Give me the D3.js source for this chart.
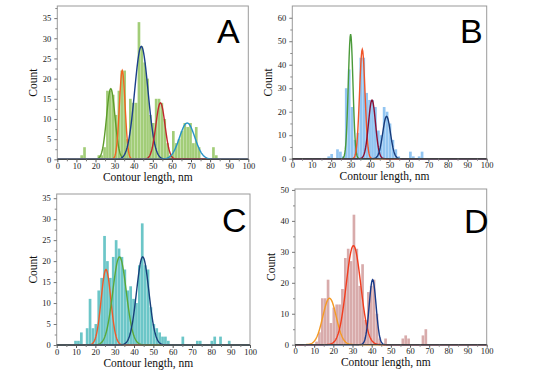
<!DOCTYPE html>
<html>
<head>
<meta charset="utf-8">
<script src="https://cdn.jsdelivr.net/npm/d3@7"></script>
<style>
  body { margin: 0; background: #fff; }
  svg { display: block; }
</style>
</head>
<body>
<svg id="chart" width="539" height="383"></svg>
<script>
// histograms: [bin start (nm), count], bin width 1.5 nm
const binWidth = 1.5;
const histA = [[12,1],[13.5,3],[21,1],[22.5,1],[24,3],[25.5,17],[27,17],[28.5,16],[30,11],[31.5,17],[33,22],[34.5,22],[36,5],
  [37.5,15],[39,14],[40.5,14],[42,34],[43.5,28],[45,24],[46.5,20],[48,11],[49.5,9],[51,15],[52.5,15],[54,14],[55.5,10],
  [57,4],[58.5,1],[60,7],[61.5,4],[63,5],[64.5,7],[66,9],[67.5,8],[69,9],[70.5,4],[72,8],[73.5,3],[81,3],[82.5,1]];
const histB = [[18,1],[19.5,2],[22.5,4],[24,3],[25.5,1],[27,30],[28.5,38],[30,22],[31.5,8],[33,11],[34.5,43],[36,43],
  [37.5,28],[39,25],[40.5,25],[42,22],[43.5,12],[45,10],[46.5,22],[48,20],[49.5,15],[51,8],[52.5,4],[54,1],
  [60,3],[61.5,1],[64.5,1],[66,3]];
const histC = [[9,1],[10.5,1],[12,3],[15,4],[16.5,11],[18,4],[19.5,5],[21,13],[22.5,16],[24,26],[25.5,20],[27,16],
  [28.5,21],[30,25],[31.5,23],[33,21],[34.5,18],[36,13],[37.5,14],[39,11],[40.5,10],[42,19],[43.5,29],[45,19],
  [46.5,18],[48,9],[49.5,5],[51,4],[52.5,3],[54,2],[55.5,2],[57,1],[64.5,2],[72,1],[73.5,1],[79.5,1],[81,2],[84,2],[88.5,1]];
const histD = [[10.5,1],[12,4],[13.5,15],[15,15],[16.5,21],[18,7],[19.5,12],[21,13],[22.5,13],[24,18],[25.5,28],[27,31],
  [28.5,27],[30,42],[31.5,31],[33,19],[34.5,26],[36,8],[37.5,17],[39,19],[40.5,21],[42,10],[43.5,2],[46.5,2],
  [55.5,2],[57,3],[58.5,2],[66,3],[67.5,5]];

// gaussian fits: mean, sigma, peak height
const muA = [28, 34, 44, 54, 68],   sdA = [2.2, 1.5, 3.5, 2.4, 4.0], peakA = [17.5, 22, 28, 14, 9];
const muB = [30, 36, 41, 48.5],     sdB = [1.2, 1.4, 1.8, 2.0],      peakB = [53, 46.5, 25, 18];
const muC = [25.5, 32.5, 44.5],     sdC = [2.5, 3.5, 3.2],           peakC = [18, 21, 21];
const muD = [18, 30.5, 40.5],       sdD = [3.5, 3.8, 1.8],           peakD = [15, 32, 21];

const xTicks = d3.range(0, 101, 10);
const yTicksA = d3.range(0, 36, 5), yTicksB = d3.range(0, 61, 10);
const yTicksC = d3.range(0, 36, 5), yTicksD = d3.range(0, 51, 10);
const letters = ['A', 'B', 'C', 'D'];

const panels = [
  {hist: histA, mu: muA, sd: sdA, pk: peakA, yTicks: yTicksA, yMax: 38, bar: '#a2cd78',
   lines: ['#5e9c2c', '#f26522', '#1b3f8b', '#c1272d', '#2593c9'],
   box: {l: 57.3, r: 248.3, t: 6, b: 159.3}, lx: 217, ly: 43},
  {hist: histB, mu: muB, sd: sdB, pk: peakB, yTicks: yTicksB, yMax: 65, bar: '#92c5f1',
   lines: ['#4b9a3a', '#f0552a', '#8b1035', '#173a7a'],
   box: {l: 292.3, r: 486.7, t: 6, b: 158.7}, lx: 460, ly: 43},
  {hist: histC, mu: muC, sd: sdC, pk: peakC, yTicks: yTicksC, yMax: 36, bar: '#6cc6c8',
   lines: ['#ef5a2a', '#5aa837', '#173f7a'],
   box: {l: 56.7, r: 250, t: 194, b: 345}, lx: 222, ly: 232},
  {hist: histD, mu: muD, sd: sdD, pk: peakD, yTicks: yTicksD, yMax: 50.3, bar: '#d8abab',
   lines: ['#f59a23', '#f23c1d', '#173a8a'],
   box: {l: 295, r: 486.7, t: 189, b: 344.7}, lx: 464, ly: 233}
];

const svg = d3.select('#chart');
const serif = '"Liberation Serif", "Times New Roman", serif';
const frameColor = '#9a9a9a';

panels.forEach((p, i) => {
  const b = p.box;
  const x = d3.scaleLinear().domain([0, 100]).range([b.l, b.r]);
  const y = d3.scaleLinear().domain([0, p.yMax]).range([b.b, b.t]);
  const g = svg.append('g');

  // bars
  g.selectAll('.bar')
    .data(p.hist)
    .enter()
    .append('rect')
    .attr('class', 'bar')
    .attr('x', d => x(d[0]) + 0.1)
    .attr('width', d => x(d[0] + binWidth) - x(d[0]) - 0.2)
    .attr('y', d => y(d[1]))
    .attr('height', d => y(0) - y(d[1]))
    .attr('fill', p.bar);

  // fitted gaussians
  const xs = d3.range(0, 100.01, 0.25);
  const line = d3.line().x(d => x(d[0])).y(d => y(d[1]));
  p.mu.forEach((m, k) => {
    const pts = xs.map(v => [v, p.pk[k] * Math.exp(-0.5 * ((v - m) / p.sd[k]) ** 2)]);
    g.append('path')
      .attr('d', line(pts))
      .attr('fill', 'none')
      .attr('stroke', p.lines[k])
      .attr('stroke-width', 1.4);
  });

  // frame
  g.append('rect')
    .attr('x', b.l).attr('y', b.t)
    .attr('width', b.r - b.l).attr('height', b.b - b.t)
    .attr('fill', 'none')
    .attr('stroke', frameColor)
    .attr('stroke-width', 1);

  // axes
  const xAxis = g.append('g')
    .attr('transform', `translate(0, ${b.b})`)
    .call(d3.axisBottom(x).tickValues(xTicks).tickSize(3).tickPadding(0.5));
  xAxis.selectAll('.tick line').attr('stroke', '#555');
  g.append('g')
    .attr('transform', `translate(0, ${b.b})`)
    .call(d3.axisBottom(x).tickValues(d3.range(5, 100, 10)).tickSize(2).tickFormat(''))
    .call(s => s.select('.domain').remove())
    .selectAll('.tick line').attr('stroke', '#777');
  xAxis.select('.domain').attr('stroke', '#333').attr('d', `M${b.l},0H${b.r}`);
  xAxis.selectAll('.tick text')
    .style('font-family', serif).style('font-size', '8.5px').attr('fill', '#222');

  const yAxis = g.append('g')
    .attr('transform', `translate(${b.l}, 0)`)
    .call(d3.axisLeft(y).tickValues(p.yTicks).tickSize(3).tickPadding(3));
  yAxis.select('.domain').remove();
  yAxis.selectAll('.tick line').attr('stroke', '#777');
  yAxis.selectAll('.tick text')
    .style('font-family', serif).style('font-size', '8.5px').attr('fill', '#222');
  const yStep = p.yTicks[1] - p.yTicks[0];
  g.append('g')
    .attr('transform', `translate(${b.l}, 0)`)
    .call(d3.axisLeft(y).tickValues(d3.range(yStep / 2, p.yMax, yStep)).tickSize(2).tickFormat(''))
    .call(s => s.select('.domain').remove())
    .selectAll('.tick line').attr('stroke', '#888');

  // labels
  g.append('text')
    .attr('x', (b.l + b.r) / 2 - 5)
    .attr('y', b.b + 21.5)
    .attr('text-anchor', 'middle')
    .style('font-family', serif)
    .style('font-size', '11.5px')
    .attr('fill', '#111')
    .text('Contour length, nm');

  g.append('text')
    .attr('transform', 'rotate(-90)')
    .attr('x', -(b.t + b.b) / 2)
    .attr('y', b.l - 20)
    .attr('text-anchor', 'middle')
    .style('font-family', serif)
    .style('font-size', '11.5px')
    .attr('fill', '#111')
    .text('Count');

  g.append('text')
    .attr('x', p.lx)
    .attr('y', p.ly)
    .style('font-family', '"Liberation Sans", Arial, sans-serif')
    .style('font-size', '34px')
    .attr('fill', '#000')
    .text(letters[i]);
});
</script>
</body>
</html>
